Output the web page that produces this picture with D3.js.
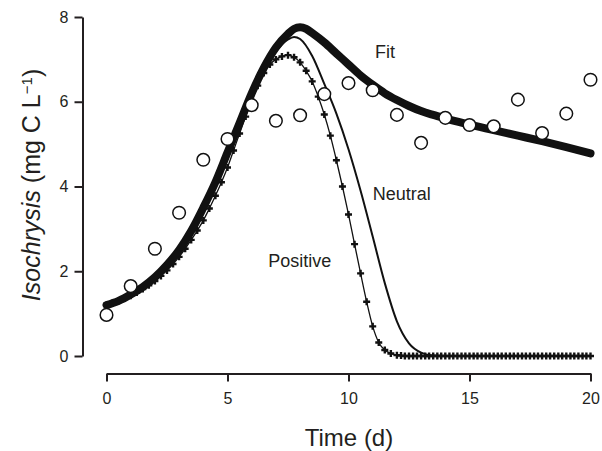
<!DOCTYPE html>
<html>
<head>
<meta charset="utf-8">
<script src="https://cdn.jsdelivr.net/npm/d3@7"></script>
<style>
  body { margin: 0; background: #fff; }
  text { font-family: "Liberation Sans", Arial, sans-serif; fill: #231f20; }
</style>
</head>
<body>
<svg id="chart"></svg>
<script>
var width = 602,
    height = 451;

// observed Isochrysis (circles)
var obsTime = [0, 1, 2, 3, 4, 5, 6, 7, 8, 9, 10, 11, 12, 13, 14, 15, 16, 17, 18, 19, 20];
var obsValue = [0.97, 1.65, 2.53, 3.38, 4.63, 5.12, 5.92, 5.55, 5.68, 6.18, 6.44, 6.27,
                5.69, 5.03, 5.62, 5.45, 5.42, 6.05, 5.26, 5.72, 6.52];

// model fit (thick line)
var fitTime = [0, 0.5, 1, 1.5, 2, 2.5, 3, 3.5, 4, 4.5, 5, 5.5, 6, 6.5, 7, 7.5, 7.75, 8, 8.25, 8.5,
               9, 9.5, 10, 10.5, 11, 11.5, 12, 12.5, 13, 13.5, 14, 15, 16, 17, 18, 19, 20];
var fitValue = [1.2, 1.3, 1.45, 1.63, 1.86, 2.15, 2.5, 2.95, 3.5, 4.1, 4.8, 5.5, 6.2, 6.8, 7.28, 7.6, 7.72, 7.76, 7.72, 7.62,
                7.4, 7.14, 6.88, 6.62, 6.4, 6.2, 6.04, 5.9, 5.78, 5.69, 5.61, 5.46, 5.33, 5.2, 5.07, 4.93, 4.78];

// neutral scenario (thin line)
var neuTime = [0, 0.5, 1, 1.5, 2, 2.5, 3, 3.5, 4, 4.5, 5, 5.5, 6, 6.5, 7, 7.5, 7.75, 8, 8.5,
               9, 9.5, 10, 10.5, 11, 11.5, 12, 12.5, 13, 13.5, 14, 20];
var neuValue = [1.2, 1.3, 1.43, 1.6, 1.82, 2.1, 2.44, 2.88, 3.4, 4.0, 4.68, 5.4, 6.08, 6.7, 7.18, 7.47, 7.53, 7.48, 7.08,
                6.42, 5.72, 4.88, 3.9, 2.82, 1.72, 0.82, 0.3, 0.08, 0.01, 0, 0];

// positive scenario (line with + markers)
var posTime = [0, 0.25, 0.5, 0.75, 1, 1.25, 1.5, 1.75, 2, 2.25, 2.5, 2.75, 3, 3.25, 3.5, 3.75,
               4, 4.25, 4.5, 4.75, 5, 5.25, 5.5, 5.75, 6, 6.25, 6.5, 6.75, 7, 7.25, 7.5, 7.75,
               8, 8.25, 8.5, 8.75, 9, 9.25, 9.5, 9.75, 10, 10.25, 10.5, 10.75, 11, 11.25, 11.5, 11.75,
               12, 12.17, 12.33, 12.5, 12.67, 12.83, 13, 13.17, 13.33, 13.5, 13.67, 13.83,
               14, 14.17, 14.33, 14.5, 14.67, 14.83, 15, 15.17, 15.33, 15.5, 15.67, 15.83,
               16, 16.17, 16.33, 16.5, 16.67, 16.83, 17, 17.17, 17.33, 17.5, 17.67, 17.83,
               18, 18.17, 18.33, 18.5, 18.67, 18.83, 19, 19.17, 19.33, 19.5, 19.67, 19.83, 20];
var posValue = [1.2, 1.25, 1.3, 1.36, 1.42, 1.5, 1.58, 1.67, 1.77, 1.89, 2.02, 2.17, 2.34, 2.53, 2.74, 2.96,
                3.2, 3.48, 3.78, 4.1, 4.45, 4.85, 5.25, 5.65, 6.02, 6.38, 6.68, 6.88, 7.0, 7.07, 7.1, 7.05,
                6.93, 6.73, 6.48, 6.12, 5.7, 5.2, 4.62, 4.0, 3.34, 2.64, 1.95, 1.28, 0.7, 0.32, 0.14, 0.06,
                0.02, 0.01, 0, 0, 0, 0, 0, 0, 0, 0, 0, 0,
                0, 0, 0, 0, 0, 0, 0, 0, 0, 0, 0, 0,
                0, 0, 0, 0, 0, 0, 0, 0, 0, 0, 0, 0,
                0, 0, 0, 0, 0, 0, 0, 0, 0, 0, 0, 0, 0];

var xTicks = [0, 5, 10, 15, 20],
    yTicks = [0, 2, 4, 6, 8];

var zip = function(t, v) { return t.map(function(d, i) { return {t: d, v: v[i]}; }); };
var observed = zip(obsTime, obsValue),
    fit = zip(fitTime, fitValue),
    neutral = zip(neuTime, neuValue),
    positive = zip(posTime, posValue);

//Scales
var x = d3.scaleLinear().domain([0, 20]).range([106.5, 590.5]);
var y = d3.scaleLinear().domain([0, 8]).range([356, 17]);

var svg = d3.select("#chart")
            .attr("width", width)
            .attr("height", height);

//Axes
var yAxis = svg.append("g")
               .attr("transform", "translate(82.5,0)")
               .call(d3.axisLeft(y).tickValues(yTicks).tickSize(8).tickPadding(6).tickSizeOuter(0));

var xAxis = svg.append("g")
               .attr("transform", "translate(0,373.5)")
               .call(d3.axisBottom(x).tickValues(xTicks).tickSize(8).tickPadding(11).tickSizeOuter(0));

[xAxis, yAxis].forEach(function(g) {
  g.select(".domain").attr("stroke", "#231f20").attr("stroke-width", 2);
  g.selectAll(".tick line").attr("stroke", "#231f20").attr("stroke-width", 2);
  g.selectAll(".tick text").attr("font-size", 16).attr("fill", "#231f20")
   .style("font-family", '"Liberation Sans", Arial, sans-serif');
});

//Axis titles
svg.append("text")
   .attr("x", 349)
   .attr("y", 446)
   .attr("text-anchor", "middle")
   .attr("font-size", 24)
   .text("Time (d)");

var yTitle = svg.append("text")
   .attr("transform", "translate(40,185) rotate(-90)")
   .attr("text-anchor", "middle")
   .attr("font-size", 25);
yTitle.append("tspan").attr("font-style", "italic").text("Isochrysis");
yTitle.append("tspan").text(" (mg C L");
yTitle.append("tspan").attr("font-size", 15).attr("dy", "-0.55em").text("\u22121");
yTitle.append("tspan").attr("dy", "0.35em").text(")");

//Lines
var line = d3.line()
             .x(function(d) { return x(d.t); })
             .y(function(d) { return y(d.v); })
             .curve(d3.curveMonotoneX);

svg.append("path")
   .datum(neutral)
   .attr("fill", "none")
   .attr("stroke", "#111")
   .attr("stroke-width", 2)
   .attr("d", line);

svg.append("path")
   .datum(positive)
   .attr("fill", "none")
   .attr("stroke", "#111")
   .attr("stroke-width", 1.3)
   .attr("d", line);

svg.append("g")
   .selectAll("path")
   .data(positive)
   .join("path")
   .attr("transform", function(d) { return "translate(" + x(d.t) + "," + y(d.v) + ")"; })
   .attr("d", "M-3.5,0H3.5M0,-3.5V3.5")
   .attr("stroke", "#111")
   .attr("stroke-width", 2.4);

svg.append("path")
   .datum(fit)
   .attr("fill", "none")
   .attr("stroke", "#111")
   .attr("stroke-width", 8)
   .attr("stroke-linecap", "round")
   .attr("d", line);

svg.append("g")
   .selectAll("circle")
   .data(observed)
   .join("circle")
   .attr("cx", function(d) { return x(d.t); })
   .attr("cy", function(d) { return y(d.v); })
   .attr("r", 6.3)
   .attr("fill", "#fff")
   .attr("stroke", "#111")
   .attr("stroke-width", 1.5);

//Curve labels
var labels = [
  {name: "Fit", t: 11.1, v: 7.03},
  {name: "Neutral", t: 11.0, v: 3.67},
  {name: "Positive", t: 6.68, v: 2.11}
];

svg.append("g")
   .selectAll("text")
   .data(labels)
   .join("text")
   .attr("x", function(d) { return x(d.t); })
   .attr("y", function(d) { return y(d.v); })
   .attr("font-size", 18)
   .text(function(d) { return d.name; });
</script>
</body>
</html>
